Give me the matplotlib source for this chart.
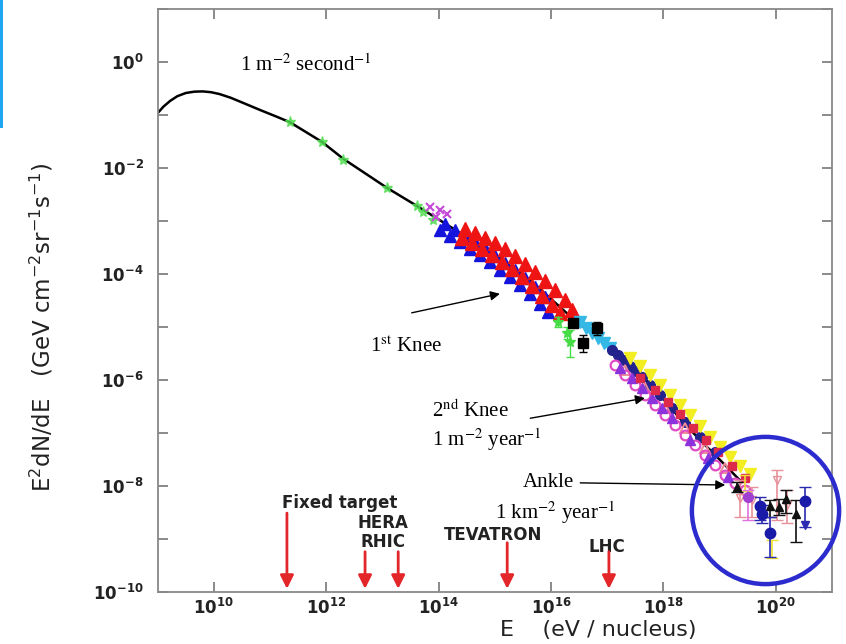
import numpy as np
import matplotlib
matplotlib.use("Agg")
import matplotlib.pyplot as plt
from matplotlib.patches import Rectangle
from matplotlib.ticker import FixedLocator, FixedFormatter, NullFormatter, NullLocator

# ---------------- data (log10 values) ----------------
curve_logE = [9.00, 9.10, 9.22, 9.35, 9.50, 9.65, 9.80, 9.95, 10.10, 10.30, 10.55, 10.82,
              11.10, 11.35, 11.92, 12.30, 13.08, 13.61, 14.20, 14.65, 15.09, 15.63, 15.98,
              16.39, 16.87, 17.35, 17.58, 17.94, 18.29, 18.65, 19.01, 19.36]
curve_logF = [-0.96, -0.84, -0.73, -0.64, -0.58, -0.555, -0.55, -0.565, -0.60, -0.67, -0.78, -0.90,
              -1.02, -1.13, -1.50, -1.82, -2.37, -2.71, -3.10, -3.40, -3.70, -4.12, -4.45,
              -4.84, -5.24, -5.68, -5.87, -6.28, -6.72, -7.13, -7.51, -7.89]

green_logE = [11.35, 11.92, 12.30, 13.08, 13.61, 13.72, 13.90]
green_logF = [-1.13, -1.50, -1.84, -2.37, -2.72, -2.82, -2.97]

green_knee_logE = [16.12, 16.28, 16.34]
green_knee_logF = [-4.90, -5.11, -5.28]
green_knee_lo = [-5.00, -5.22, -5.56]
green_knee_hi = [-4.80, -5.00, -5.05]

magenta_logE = [13.85, 14.02, 14.15, 13.95]
magenta_logF = [-2.73, -2.79, -2.86, -2.92]

blue_logE = [14.11, 14.29, 14.47, 14.65, 14.82, 15.00, 15.18, 15.36, 15.54, 15.71, 15.89,
             14.02, 14.20, 14.38, 14.56, 14.74, 14.91, 15.09, 15.27, 15.45, 15.63, 15.80, 15.95]
blue_logF = [-3.05, -3.17, -3.28, -3.39, -3.51, -3.66, -3.79, -3.92, -4.07, -4.24, -4.43,
             -3.17, -3.28, -3.39, -3.52, -3.64, -3.77, -3.92, -4.05, -4.20, -4.37, -4.56, -4.71]

red_logE = [14.47, 14.65, 14.82, 15.00, 15.18, 15.36, 15.54, 15.71, 15.89, 16.07, 16.25, 16.37,
            14.41, 14.59, 14.77, 14.95, 15.13, 15.31, 15.48, 15.66, 15.84, 16.02, 16.16]
red_logF = [-3.15, -3.22, -3.32, -3.41, -3.52, -3.66, -3.81, -3.96, -4.13, -4.30, -4.49, -4.68,
            -3.32, -3.41, -3.52, -3.64, -3.77, -3.90, -4.05, -4.22, -4.41, -4.58, -4.73]

black_sq_logE = [16.39, 16.57, 16.82]
black_sq_logF = [-4.92, -5.30, -5.02]
black_sq_lo = [-5.00, -5.46, -5.15]
black_sq_hi = [-4.84, -5.15, -4.90]

cyan_logE = [16.51, 16.62, 16.73, 16.83, 16.94, 17.05]
cyan_logF = [-4.90, -5.02, -5.11, -5.20, -5.30, -5.39]

navy_logE = [17.08, 17.19, 17.30, 17.40, 17.51, 17.62, 17.76, 17.94, 18.15, 18.38, 18.65, 18.92]
navy_logF = [-5.43, -5.53, -5.62, -5.73, -5.83, -5.94, -6.09, -6.28, -6.53, -6.79, -7.07, -7.36]

yellow_logE = [17.40, 17.58, 17.76, 17.94, 18.12, 18.29, 18.47, 18.65, 18.83, 19.01, 19.18, 19.36, 19.54]
yellow_logF = [-5.58, -5.73, -5.90, -6.09, -6.28, -6.47, -6.66, -6.87, -7.07, -7.26, -7.45, -7.62, -7.77]

pink_logE = [17.14, 17.31, 17.49, 17.67, 17.85, 18.03, 18.20, 18.38, 18.56, 18.74, 18.92, 19.09, 19.27, 19.45]
pink_logF = [-5.71, -5.90, -6.09, -6.28, -6.47, -6.66, -6.85, -7.04, -7.22, -7.41, -7.60, -7.79, -7.94, -8.07]

salmon_logE = [17.31, 17.67, 18.03, 18.38, 18.74, 19.09]
salmon_logF = [-5.81, -6.15, -6.53, -6.90, -7.28, -7.66]

purple_logE = [17.23, 17.44, 17.62, 17.80, 17.97, 18.15, 18.47, 18.79, 19.15]
purple_logF = [-5.77, -5.96, -6.15, -6.34, -6.53, -6.72, -7.13, -7.47, -7.83]

crimson_logE = [17.58, 17.85, 18.08, 18.29, 18.53, 18.76, 18.97, 19.22, 19.45]
crimson_logF = [-5.96, -6.19, -6.41, -6.64, -6.90, -7.13, -7.36, -7.62, -7.85]

uhe_blue_logE = [19.72, 19.75, 20.52, 19.90]
uhe_blue_logF = [-8.38, -8.53, -8.28, -8.89]
uhe_blue_lo = [-8.64, -8.70, -8.77, -9.34]
uhe_blue_hi = [-8.21, -8.36, -8.02, -8.58]

uhe_black_logE = [19.31, 19.90, 20.06, 20.18, 20.36]
uhe_black_logF = [-8.02, -8.38, -8.40, -8.24, -8.53]
uhe_black_lo = [-8.12, -8.58, -8.55, -8.51, -9.06]
uhe_black_hi = [-7.92, -8.26, -8.25, -8.07, -8.26]

uhe_pink_logE = [19.36, 19.57, 20.02, 20.20]
uhe_pink_logF = [-8.23, -8.26, -7.89, -8.36]
uhe_pink_lo = [-8.58, -8.58, -8.64, -8.70]
uhe_pink_hi = [-7.89, -8.02, -7.70, -8.07]

uhe_purple_logE = [19.50]
uhe_purple_logF = [-8.21]
uhe_purple_lo = [-8.64]
uhe_purple_hi = [-8.07]

uhe_yellow_logE = [19.93, 19.45]
uhe_yellow_logF = [-9.17, -7.95]
uhe_yellow_lo = [-9.36, -8.10]
uhe_yellow_hi = [-9.02, -7.80]

uhe_limit_logE = [20.52]
uhe_limit_logF = [-8.74]

collider_names = ["Fixed target", "HERA", "RHIC", "TEVATRON", "LHC"]
collider_logE = [11.30, 12.69, 13.28, 15.22, 17.03]

xtick_exp = [10, 12, 14, 16, 18, 20]
xtick_labels = [r"$\mathbf{10^{10}}$", r"$\mathbf{10^{12}}$", r"$\mathbf{10^{14}}$",
                r"$\mathbf{10^{16}}$", r"$\mathbf{10^{18}}$", r"$\mathbf{10^{20}}$"]
ytick_exp = [0, -2, -4, -6, -8, -10]
ytick_labels = [r"$\mathbf{10^{0}}$", r"$\mathbf{10^{-2}}$", r"$\mathbf{10^{-4}}$",
                r"$\mathbf{10^{-6}}$", r"$\mathbf{10^{-8}}$", r"$\mathbf{10^{-10}}$"]
yminor_exp = [1, -1, -3, -5, -7, -9]

ankle_ring_logE = 19.815
ankle_ring_logF = -8.45


def pw(a):
    return 10.0 ** np.asarray(a, dtype=float)


def yerr(logF, lo, hi):
    F = pw(logF)
    return [F - pw(lo), pw(hi) - F]


# ---------------- figure ----------------
fig = plt.figure(figsize=(8.46, 6.44), dpi=100)
fig.patch.set_facecolor("white")
ax = fig.add_axes([157.7 / 846, 52 / 644, 674.3 / 846, 582.7 / 644])
ax.set_xscale("log")
ax.set_yscale("log")
ax.set_xlim(1e9, 1e21)
ax.set_ylim(1e-10, 1e1)

# spectrum curve
ax.plot(pw(curve_logE), pw(curve_logF), color="black", lw=1.8, zorder=2)

# data bands
ax.plot(pw(green_logE), pw(green_logF), ls="none", marker="*", ms=8, color="#52de52", alpha=0.8, zorder=3)
ax.plot(pw(magenta_logE), pw(magenta_logF), ls="none", marker="x", ms=6, mew=1.5, color="#c64ad8", zorder=3)
ax.plot(pw(blue_logE), pw(blue_logF), ls="none", marker="^", ms=9, color="#1414dc", zorder=3)
ax.plot(pw(red_logE), pw(red_logF), ls="none", marker="^", ms=10, color="#ee1414", zorder=3)
ax.errorbar(pw(green_knee_logE), pw(green_knee_logF),
            yerr=yerr(green_knee_logF, green_knee_lo, green_knee_hi),
            fmt="*", ms=8, color="#46dc46", elinewidth=1, capsize=3, zorder=3)
ax.plot(pw(cyan_logE), pw(cyan_logF), ls="none", marker="v", ms=8, color="#35b8e6", zorder=3)
ax.plot(pw(navy_logE), pw(navy_logF), ls="none", marker="o", ms=7, color="#23238e", zorder=3)
ax.plot(pw(yellow_logE), pw(yellow_logF), ls="none", marker="v", ms=9, color="#f2ee22", zorder=3)
ax.plot(pw(salmon_logE), pw(salmon_logF), ls="none", marker="^", ms=7, mfc="none", mew=1.4,
        color="#ec8a96", zorder=3)
ax.plot(pw(pink_logE), pw(pink_logF), ls="none", marker="o", ms=7, mfc="none", mew=1.6,
        color="#e04ac4", zorder=3)
ax.plot(pw(purple_logE), pw(purple_logF), ls="none", marker="^", ms=7.5, color="#8a33dc", zorder=3)
ax.plot(pw(crimson_logE), pw(crimson_logF), ls="none", marker="s", ms=5.5, color="#dd2a4a", zorder=3)
ax.errorbar(pw(black_sq_logE), pw(black_sq_logF),
            yerr=yerr(black_sq_logF, black_sq_lo, black_sq_hi),
            fmt="s", ms=7, color="black", elinewidth=1, capsize=3, zorder=4)

# ultra-high-energy points with error bars
ax.errorbar(pw(uhe_pink_logE), pw(uhe_pink_logF), yerr=yerr(uhe_pink_logF, uhe_pink_lo, uhe_pink_hi),
            fmt="v", ms=6, mfc="none", color="#e8909a", elinewidth=1.2, capsize=4, zorder=3)
ax.errorbar(pw(uhe_yellow_logE), pw(uhe_yellow_logF), yerr=yerr(uhe_yellow_logF, uhe_yellow_lo, uhe_yellow_hi),
            fmt="none", color="#eee030", elinewidth=1.2, capsize=4, zorder=3)
ax.errorbar(pw(uhe_purple_logE), pw(uhe_purple_logF), yerr=yerr(uhe_purple_logF, uhe_purple_lo, uhe_purple_hi),
            fmt="o", ms=7, color="#a040d0", ecolor="#e070e0", elinewidth=1.2, capsize=4, zorder=3)
ax.errorbar(pw(uhe_black_logE), pw(uhe_black_logF), yerr=yerr(uhe_black_logF, uhe_black_lo, uhe_black_hi),
            fmt="^", ms=6, color="#111111", elinewidth=1.2, capsize=4, zorder=4)
ax.errorbar(pw(uhe_blue_logE), pw(uhe_blue_logF), yerr=yerr(uhe_blue_logF, uhe_blue_lo, uhe_blue_hi),
            fmt="o", ms=7.5, color="#1a1aa8", ecolor="#2a2ab0", elinewidth=1.2, capsize=4, zorder=4)
ax.plot(pw(uhe_limit_logE), pw(uhe_limit_logF), ls="none", marker="v", ms=6, color="#2a2ab0", zorder=4)

# ring around the highest-energy data
ax.plot([10.0 ** ankle_ring_logE], [10.0 ** ankle_ring_logF], marker="o", ms=106, mfc="none",
        mec="#2c2cce", mew=3.2, ls="none", clip_on=False, zorder=5)

# collider arrows
red = "#e3262a"
arrow_tail_logF = [-8.51, -9.24, -9.24, -9.07, -9.24]
for lx, ty in zip(collider_logE, arrow_tail_logF):
    ax.annotate("", xy=(10.0 ** lx, 10.0 ** -9.94), xytext=(10.0 ** lx, 10.0 ** ty),
                arrowprops=dict(arrowstyle="-|>", color=red, lw=2.0, mutation_scale=20,
                                shrinkA=0, shrinkB=0), zorder=4)

lab_kw = dict(fontsize=12, fontweight="bold", color="#222222", family="DejaVu Sans")
ax.text(10.0 ** 11.22, 10.0 ** -8.32, collider_names[0], ha="left", va="center", **lab_kw)
ax.text(10.0 ** 13.01, 10.0 ** -8.70, collider_names[1], ha="center", va="center", **lab_kw)
ax.text(10.0 ** 13.01, 10.0 ** -9.06, collider_names[2], ha="center", va="center", **lab_kw)
ax.text(10.0 ** 14.97, 10.0 ** -8.92, collider_names[3], ha="center", va="center", **lab_kw)
ax.text(10.0 ** 17.00, 10.0 ** -9.15, collider_names[4], ha="center", va="center", **lab_kw)

# serif annotations
ser = dict(family="Liberation Serif", math_fontfamily="stix", fontsize=15, color="black")
ax.text(10.0 ** 10.47, 10.0 ** -0.05, r"1 m$^{-2}$ second$^{-1}$", ha="left", va="center", **ser)

arr = dict(arrowstyle="-|>", color="black", lw=1.0, mutation_scale=14, shrinkA=0, shrinkB=0)
ax.text(10.0 ** 13.42, 10.0 ** -5.37, r"1$^{\mathrm{st}}$ Knee", ha="center", va="center", **ser)
ax.annotate("", xy=(10.0 ** 15.09, 10.0 ** -4.37), xytext=(10.0 ** 13.52, 10.0 ** -4.73), arrowprops=arr)

ax.text(10.0 ** 13.88, 10.0 ** -6.58, r"2$^{\mathrm{nd}}$ Knee", ha="left", va="center", **ser)
ax.text(10.0 ** 13.88, 10.0 ** -7.13, r"1 m$^{-2}$ year$^{-1}$", ha="left", va="center", **ser)
ax.annotate("", xy=(10.0 ** 17.67, 10.0 ** -6.34), xytext=(10.0 ** 15.63, 10.0 ** -6.72), arrowprops=arr)

ax.text(10.0 ** 15.50, 10.0 ** -7.94, "Ankle", ha="left", va="center", **ser)
ax.text(10.0 ** 15.00, 10.0 ** -8.51, r"1 km$^{-2}$ year$^{-1}$", ha="left", va="center", **ser)
ax.annotate("", xy=(10.0 ** 19.10, 10.0 ** -7.98), xytext=(10.0 ** 16.52, 10.0 ** -7.94), arrowprops=arr)

# ticks and spines
ax.xaxis.set_major_locator(FixedLocator(pw(xtick_exp)))
ax.xaxis.set_major_formatter(FixedFormatter(xtick_labels))
ax.xaxis.set_minor_locator(NullLocator())
ax.yaxis.set_major_locator(FixedLocator(pw(ytick_exp)))
ax.yaxis.set_major_formatter(FixedFormatter(ytick_labels))
ax.yaxis.set_minor_locator(FixedLocator(pw(yminor_exp)))
ax.yaxis.set_minor_formatter(NullFormatter())
ax.tick_params(which="both", direction="in", top=True, right=True, length=7, width=1.2, color="#777777")
ax.tick_params(axis="x", labelsize=12, pad=4, labelcolor="#222222")
ax.tick_params(axis="y", labelsize=12, pad=10, labelcolor="#222222")
for s in ax.spines.values():
    s.set_color("#888888")
    s.set_linewidth(1.3)

ax.set_xlabel("E    (eV / nucleus)", fontsize=16, color="#222222", va="center")
ax.xaxis.set_label_coords(0.654, -0.065)
ax.set_ylabel(r"E$^2$dN/dE   (GeV cm$^{-2}$sr$^{-1}$s$^{-1}$)", fontsize=16.5, color="#222222", va="center")
ax.yaxis.set_label_coords(-0.172, 0.455)

# thin blue edge strip at the top-left of the picture
fig.add_artist(Rectangle((0, 1 - 128 / 644), 2.5 / 846, 128 / 644, transform=fig.transFigure,
                         color="#1ea7f0", lw=0))

fig.savefig("out.png", dpi=100)
